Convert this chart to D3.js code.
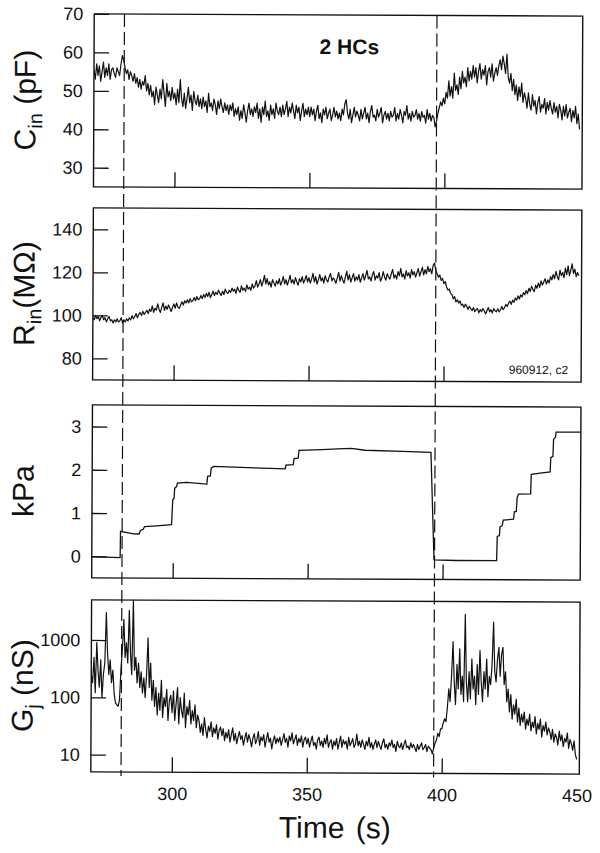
<!DOCTYPE html>
<html lang="en">
<head>
<meta charset="UTF-8">
<title>Cin, Rin, kPa, Gj vs time</title>
<script src="https://cdn.jsdelivr.net/npm/d3@7"></script>
<style>
  body { margin: 0; background: #fff; }
  svg { font-family: "Liberation Sans", Arial, Helvetica, sans-serif; }
</style>
</head>
<body>
<div id="container"></div>
<script>
// traces, one sample every 0.5 s from 270 s to 450 s
const t0 = 270, dt = 0.5;

const cin = [
  55.5, 53, 57, 54, 56.5, 52.5, 55, 57.5, 53.5, 56, 54, 57, 53, 55.5, 56, 54.5, 53.5, 56, 55, 54,
  57, 59.2, 58, 56, 54.5, 55.5, 53, 55, 54, 52.5, 54.5, 52, 53.5, 51, 53, 50.5, 52.5, 51.5, 54, 50,
  52, 49, 51.5, 48.5, 50, 46.5, 51, 49, 47, 50.5, 48, 53, 49.5, 46, 52, 48.5, 50, 47.5, 51, 48,
  49.5, 46.5, 50.5, 47, 53, 48, 46, 49.5, 45.5, 48, 51, 47, 49, 45, 50, 47.5, 46.5, 49, 46, 48,
  45.5, 48.5, 46, 47.5, 44.5, 49.5, 46, 47, 45, 48, 46.5, 44, 47.5, 45.5, 48, 46, 44.5, 47, 45, 46.5,
  44, 46.5, 45, 47, 43.5, 45.5, 44, 46, 42.5, 45, 43, 46.5, 44.5, 42, 45, 47, 44, 45.5, 43.5, 46,
  44.5, 47, 43, 45.5, 42, 46, 44, 47.5, 43.5, 45, 42.5, 46.5, 44, 45.5, 43, 47, 45, 44, 46, 43.5,
  46.5, 44, 45.5, 47.5, 43.5, 46, 44.5, 47, 45, 43, 46.5, 44.5, 46, 42.5, 45, 47, 43.5, 45.5, 44, 46,
  43.5, 46, 44, 45.5, 42.5, 45, 46.5, 43, 44.5, 42, 45.5, 44, 46, 43, 44.5, 45.5, 42.5, 44, 46, 43.5,
  45, 43, 44.5, 42.5, 45.5, 44, 47, 48, 44.5, 43, 45.5, 42, 44, 46, 43.5, 45, 44, 42.5, 45.5, 43,
  44.5, 46, 43, 44.5, 42, 45, 46.5, 43.5, 44, 42.5, 45.5, 43.5, 44.5, 46, 42, 44, 45, 43, 44.5, 42.5,
  45, 43.5, 44, 46, 42.5, 44.5, 43, 45.5, 44, 42, 45, 44, 46.5, 43, 44.5, 42.5, 45, 43.5, 44, 45.5,
  43, 44.5, 42.5, 45, 43.5, 44, 42, 45.5, 43, 44.5, 42.5, 44, 43.5, 41, 42.5, 44.5, 46, 47.5, 46.5, 48.5,
  47, 50, 48.5, 53, 49, 51.5, 48.5, 55, 50.5, 52, 49.5, 54, 51, 55.5, 52.5, 54, 51.5, 56.5, 53, 55.5,
  53.5, 57, 54, 56.5, 52.5, 55.5, 57.5, 53.5, 56, 54.5, 57, 52, 55.5, 56.5, 54, 57.5, 53, 55, 56.5, 54.5,
  57, 58.5, 56, 59.5, 57.5, 55, 60, 54, 52.5, 55, 50.5, 53.5, 49.5, 52, 48, 51.5, 49, 52.5, 47.5, 50,
  48.5, 46, 50, 47, 45.5, 49.5, 46.5, 48, 44.5, 47.5, 49, 45, 47, 46, 48.5, 44.5, 47.5, 45.5, 48, 46,
  44.5, 47.5, 45, 46.5, 43.5, 47, 45.5, 43, 46.5, 44, 47, 43.5, 45, 46, 42.5, 45.5, 43.5, 46.5, 42, 44.5,
  40.5
];

const rin = [
  99, 98, 100, 98.5, 99.5, 97.5, 99, 100, 98, 99, 97, 98.5, 99.5, 97.5, 98, 96.5, 98, 97, 98.5, 97,
  97.5, 99, 96.5, 98, 97, 98.5, 97.5, 99, 98, 100, 98.5, 99.5, 101, 99, 100.5, 101.5, 100, 102, 100.5, 101.5,
  102.5, 101, 103, 102, 104.5, 101.5, 103.5, 102.5, 105.5, 103, 101.5, 104, 106, 102.5, 104.5, 103, 105, 103.5, 102, 104,
  105.5, 103.5, 106, 104, 103.5, 105, 106.5, 105, 107, 106, 107.5, 106, 108, 106.5, 107, 108.5, 107, 109, 107.5, 108,
  109.5, 108, 110, 108.5, 110.5, 109, 111, 108.5, 110, 111.5, 109.5, 111, 110, 112, 110.5, 109.5, 111.5, 110, 112.5, 111,
  110.5, 112, 111, 113, 111.5, 112.5, 110.5, 113.5, 112, 111, 114, 112, 113, 111.5, 114.5, 112.5, 113.5, 112, 115, 113,
  114, 116.5, 113.5, 115, 117, 114, 116, 119, 115, 117.5, 114.5, 116, 113.5, 117, 115.5, 114, 116.5, 115, 117.5, 114.5,
  116, 118.5, 115, 117, 114.5, 116.5, 119, 115.5, 117, 115, 118, 116, 114.5, 117.5, 116, 118.5, 115.5, 117, 119, 116,
  118, 115.5, 117.5, 120, 116, 118.5, 115, 117, 119.5, 116.5, 118, 115.5, 119, 117, 116, 118.5, 120, 116.5, 118, 117,
  115.5, 118, 120.5, 116.5, 119, 117, 115.5, 118.5, 121, 117, 119.5, 116, 118, 120, 116.5, 118.5, 117, 119.5, 116, 118,
  120, 117, 119, 121.5, 117.5, 118.5, 116.5, 119.5, 121, 117, 119, 118, 120.5, 116.5, 118, 121, 118.5, 117, 120, 118.5,
  117.5, 120, 122, 118, 119.5, 117.5, 121, 119, 122.5, 118.5, 120, 117.5, 121.5, 119, 120.5, 118, 122, 119.5, 121, 118.5,
  120.5, 122.5, 119, 121, 123, 119.5, 122, 120, 123.5, 121, 122.5, 120, 124, 125, 121.5, 120, 118.5, 119.5, 117, 118,
  115.5, 116.5, 114, 112.5, 113, 111, 110.5, 108.5, 109.5, 107, 108, 106.5, 107.5, 105.5, 106, 104.5, 106, 105, 103.5, 105,
  104, 103, 104.5, 102.5, 103.5, 104, 102, 103.5, 102.5, 104, 103, 101.5, 103, 104.5, 102.5, 103.5, 102, 104, 103, 102.5,
  104, 102.5, 103.5, 105, 103.5, 104.5, 106, 105, 106.5, 107.5, 106, 108, 107, 109, 108, 110, 108.5, 110.5, 109.5, 111.5,
  110.5, 112.5, 111, 113.5, 112, 114.5, 113, 112, 115, 113.5, 116, 114, 117, 115, 116.5, 118, 115.5, 117.5, 116, 119,
  117.5, 120, 118, 121.5, 119, 117.5, 122, 119.5, 121, 118.5, 123, 120, 124, 119.5, 122, 125, 120.5, 122.5, 119, 121,
  119.5
];

const gj = [
  250, 180, 500, 120, 900, 300, 150, 450, 100, 250, 400, 3000, 600, 250, 450, 180, 300, 120, 80, 75,
  70, 90, 300, 700, 2300, 500, 900, 400, 3300, 600, 250, 5000, 300, 500, 180, 400, 150, 280, 120, 220,
  100, 250, 1100, 150, 400, 90, 200, 70, 150, 50, 120, 60, 200, 45, 100, 70, 140, 40, 90, 110,
  55, 130, 40, 80, 150, 35, 100, 60, 45, 120, 30, 70, 50, 90, 35, 60, 40, 75, 30, 50,
  40, 25, 35, 22, 45, 28, 20, 32, 26, 38, 21, 30, 24, 34, 19, 27, 31, 22, 29, 18,
  25, 20, 28, 17, 23, 30, 18, 24, 16, 21, 26, 19, 22, 15, 20, 25, 17, 23, 19, 14,
  20, 24, 16, 19, 26, 15, 21, 18, 23, 14, 19, 25, 17, 20, 13, 18, 22, 16, 20, 17,
  21, 15, 19, 24, 17, 20, 14, 22, 18, 25, 16, 19, 23, 15, 20, 17, 22, 14, 19, 21,
  16, 20, 14, 18, 22, 15, 17, 13, 19, 21, 15, 18, 14, 20, 16, 23, 14, 17, 19, 13,
  18, 15, 20, 13, 17, 22, 14, 19, 16, 18, 13, 21, 15, 17, 20, 14, 16, 24, 15, 18,
  14, 19, 16, 13, 18, 15, 21, 14, 17, 13, 16, 19, 14, 18, 15, 13, 17, 20, 14, 16,
  13, 17, 15, 19, 14, 16, 12, 18, 15, 14, 17, 13, 16, 19, 14, 15, 13, 17, 14, 16,
  14, 12, 16, 13, 15, 17, 13, 14, 16, 12, 15, 14, 13, 11, 14, 17, 19, 25, 22, 30,
  30, 38, 45, 40, 70, 150, 90, 250, 1000, 200, 80, 400, 150, 750, 120, 250, 90, 3000, 200, 90,
  300, 100, 500, 150, 250, 80, 400, 120, 700, 200, 90, 300, 150, 500, 110, 250, 180, 400, 2200, 300,
  200, 500, 800, 250, 600, 800, 180, 300, 90, 150, 60, 120, 45, 80, 55, 100, 40, 70, 35, 55,
  40, 60, 30, 45, 35, 55, 28, 40, 32, 50, 25, 38, 30, 45, 22, 35, 28, 40, 24, 32,
  27, 20, 30, 18, 25, 22, 16, 28, 19, 24, 15, 21, 18, 26, 14, 20, 17, 13, 19, 11,
  9
];

// pressure trace: corner points of the steps
const kpaTime = [270, 275, 280.5, 280.6, 283, 285.5, 287.5, 288, 289, 289.5, 294, 299.5, 299.9, 300.4, 300.6,
  301.3, 301.6, 305, 312.5, 312.8, 313.8, 314.1, 315, 325, 341.5, 341.8, 344.5, 344.8, 346.3, 346.6,
  355, 361, 366, 371, 385, 395.5, 396.8, 405, 420, 420.2, 421, 421.2, 422, 422.4, 426.2, 426.5,
  427.2, 427.5, 428, 432.5, 432.7, 436, 439.7, 439.9, 440.7, 440.9, 441.6, 441.8, 451];
const kpaValue = [-0.01, -0.02, -0.03, 0.58, 0.55, 0.52, 0.52, 0.6, 0.63, 0.69, 0.71, 0.74, 1.31, 1.35, 1.58,
  1.62, 1.7, 1.72, 1.68, 1.86, 1.87, 2.05, 2.09, 2.07, 2.04, 2.13, 2.14, 2.28, 2.29, 2.47,
  2.49, 2.51, 2.52, 2.48, 2.46, 2.44, -0.05, -0.06, -0.06, 0.5, 0.52, 0.72, 0.75, 0.88, 0.9, 1.07,
  1.08, 1.4, 1.48, 1.49, 1.94, 1.97, 2.0, 2.33, 2.36, 2.75, 2.8, 2.92, 2.92];

const cinTicks = [30, 40, 50, 60, 70];
const rinTicks = [80, 100, 120, 140];
const kpaTicks = [0, 1, 2, 3];
const gjTicks = [10, 100, 1000];
const xTickMarks = [300, 350, 400];
const xTickLabels = [300, 350, 400, 450];
const markTimes = [281.2, 397];

const width = 600, height = 853;
const left = 92.5, right = 581;

const svg = d3.create("svg")
  .attr("width", width)
  .attr("height", height);

// the scan is tilted a little
const root = svg.append("g").attr("transform", "rotate(0.26, 337, 400)");

const x = d3.scaleLinear().domain([270, 451]).range([left, right]);

const panels = [
  { id: "cin", top: 15, bottom: 188, y: d3.scaleLinear().domain([25, 70]), ticks: cinTicks,
    title: ["C", "in", " (pF)"], data: cin },
  { id: "rin", top: 209, bottom: 381, y: d3.scaleLinear().domain([70, 150]), ticks: rinTicks,
    title: ["R", "in", "(M\u03A9)"], data: rin },
  { id: "kpa", top: 406, bottom: 579, y: d3.scaleLinear().domain([-0.5, 3.5]), ticks: kpaTicks,
    title: ["kPa", "", ""] },
  { id: "gj", top: 601, bottom: 773, y: d3.scaleLog().domain([5, 5000]), ticks: gjTicks,
    title: ["G", "j", " (nS)"], data: gj }
];

panels.forEach(p => {
  p.y.range([p.bottom, p.top]);
  const g = root.append("g");

  g.append("clipPath").attr("id", "clip-" + p.id)
    .append("rect")
    .attr("x", left).attr("y", p.top)
    .attr("width", right - left).attr("height", p.bottom - p.top);

  // y axis: ticks point into the box
  const ya = g.append("g")
    .attr("transform", `translate(${left},0)`)
    .call(d3.axisLeft(p.y).tickValues(p.ticks).tickSize(-15).tickPadding(11).tickFormat(d3.format("d")));
  ya.select(".domain").remove();
  ya.selectAll("line").attr("stroke", "#111").attr("stroke-width", 1.3);
  ya.selectAll("text").attr("font-size", 18).attr("font-family", null).attr("fill", "#111");

  // x tick marks from the bottom edge
  const xa = g.append("g")
    .attr("transform", `translate(0,${p.bottom})`)
    .call(d3.axisBottom(x).tickValues(xTickMarks).tickSize(-15).tickFormat(""));
  xa.select(".domain").remove();
  xa.selectAll("line").attr("stroke", "#111").attr("stroke-width", 1.3);

  g.append("rect")
    .attr("x", left).attr("y", p.top)
    .attr("width", right - left).attr("height", p.bottom - p.top)
    .attr("fill", "none").attr("stroke", "#111").attr("stroke-width", 1.4);

  let line;
  if (p.id === "kpa") {
    line = d3.line().x(d => x(d[0])).y(d => p.y(d[1]));
    g.append("path")
      .datum(kpaTime.map((t, i) => [t, kpaValue[i]]))
      .attr("clip-path", `url(#clip-${p.id})`)
      .attr("d", line)
      .attr("fill", "none").attr("stroke", "#111").attr("stroke-width", 1.3);
  } else {
    line = d3.line().x((d, i) => x(t0 + i * dt)).y(d => p.y(d));
    g.append("path")
      .datum(p.data)
      .attr("clip-path", `url(#clip-${p.id})`)
      .attr("d", line)
      .attr("fill", "none").attr("stroke", "#111").attr("stroke-width", 1.2)
      .attr("stroke-linejoin", "round");
  }

  // rotated axis title with subscript
  const cy = (p.top + p.bottom) / 2;
  const title = g.append("text")
    .attr("transform", `translate(34,${cy}) rotate(-90)`)
    .attr("text-anchor", "middle")
    .attr("font-size", 30)
    .attr("fill", "#111");
  title.append("tspan").text(p.title[0]);
  if (p.title[1]) {
    title.append("tspan").attr("font-size", 20).attr("dy", 7).text(p.title[1]);
    title.append("tspan").attr("dy", -7).text(p.title[2]);
  }
});

// x labels under the last panel
const last = panels[panels.length - 1];
const xl = root.append("g")
  .attr("transform", `translate(0,${last.bottom})`)
  .call(d3.axisBottom(x).tickValues(xTickLabels).tickSize(0).tickPadding(15).tickFormat(d3.format("d")));
xl.select(".domain").remove();
xl.selectAll("text").attr("font-size", 18).attr("font-family", null).attr("fill", "#111");

root.append("text")
  .attr("x", (left + right) / 2).attr("y", 838)
  .attr("text-anchor", "middle")
  .attr("font-size", 30)
  .attr("word-spacing", 3)
  .attr("fill", "#111")
  .text("Time (s)");

// dashed markers across all panels
root.selectAll("line.mark")
  .data(markTimes)
  .join("line")
  .attr("class", "mark")
  .attr("x1", d => x(d)).attr("x2", d => x(d))
  .attr("y1", panels[0].top).attr("y2", 777)
  .attr("stroke", "#111").attr("stroke-width", 1.2)
  .attr("stroke-dasharray", "13,5");

root.append("text")
  .attr("x", 318).attr("y", 54)
  .attr("font-size", 21).attr("font-weight", "bold")
  .attr("fill", "#111")
  .text("2 HCs");

root.append("text")
  .attr("x", 568).attr("y", 373)
  .attr("text-anchor", "end")
  .attr("font-size", 12)
  .attr("fill", "#111")
  .text("960912, c2");

d3.select("#container").node().append(svg.node());
</script>
</body>
</html>
